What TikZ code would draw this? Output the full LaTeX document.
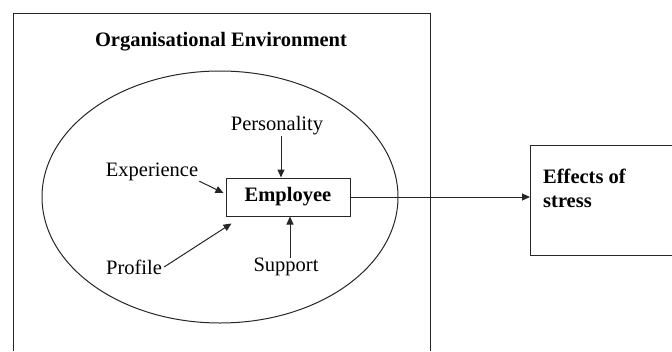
\documentclass[tikz,border=0pt]{standalone}
\usepackage{fontspec}
\setmainfont{Liberation Serif}
\usetikzlibrary{arrows.meta,shapes.geometric}
\tikzset{
  lbl/.style={inner sep=0pt, font=\fontsize{20.5}{24}\selectfont},
  boldlbl/.style={lbl, font=\fontsize{20.5}{24}\selectfont\bfseries},
  frame/.style={line width=1pt, draw=black!85},
  arr/.style={line width=1pt, draw=black!85, -{Triangle[length=8pt,width=7pt]}},
}
\begin{document}
\begin{tikzpicture}[x=1pt,y=-1pt]
\useasboundingbox (0,0) rectangle (672,351);
% outer environment frame (open at the bottom)
\draw[frame] (13,351) -- (13,13) -- (430,13) -- (430,351);
\node[boldlbl] (title) at (221,42) {Organisational Environment};
% ellipse
\node[frame, ellipse, minimum width=356pt, minimum height=252pt, inner sep=0pt] (env) at (220,197) {};
% employee box
\node[frame, boldlbl, minimum width=124pt, minimum height=38pt] (emp) at (288,197) {Employee};
% factors
\node[lbl] (per) at (277,126) {Personality};
\node[lbl] (exp) at (152,172) {Experience};
\node[lbl] (pro) at (134,267) {Profile};
\node[lbl] (sup) at (286,267) {Support};
% effects box (cut off at right)
\draw[frame] (672,145) -- (530,145) -- (530,255) -- (672,255);
\coordinate (effin) at (530,197);
\node[lbl, align=left, anchor=north west] (eff) at (543,169) {\bfseries Effects of\\\bfseries stress};
% arrows
\draw[arr] ([xshift=4pt]per.south) -- ([xshift=4pt]per.south |- emp.north);
\draw[arr] ([xshift=4pt]sup.north) -- ([xshift=4pt]sup.north |- emp.south);
\draw[arr] ([xshift=1pt]exp.south east) -- ([xshift=-2pt,yshift=4pt]emp.west);
\draw[arr] ([xshift=2pt]pro.east) -- ([xshift=6pt,yshift=-7pt]emp.south west);
\draw[arr] (emp.east) -- (effin);
\end{tikzpicture}
\end{document}
